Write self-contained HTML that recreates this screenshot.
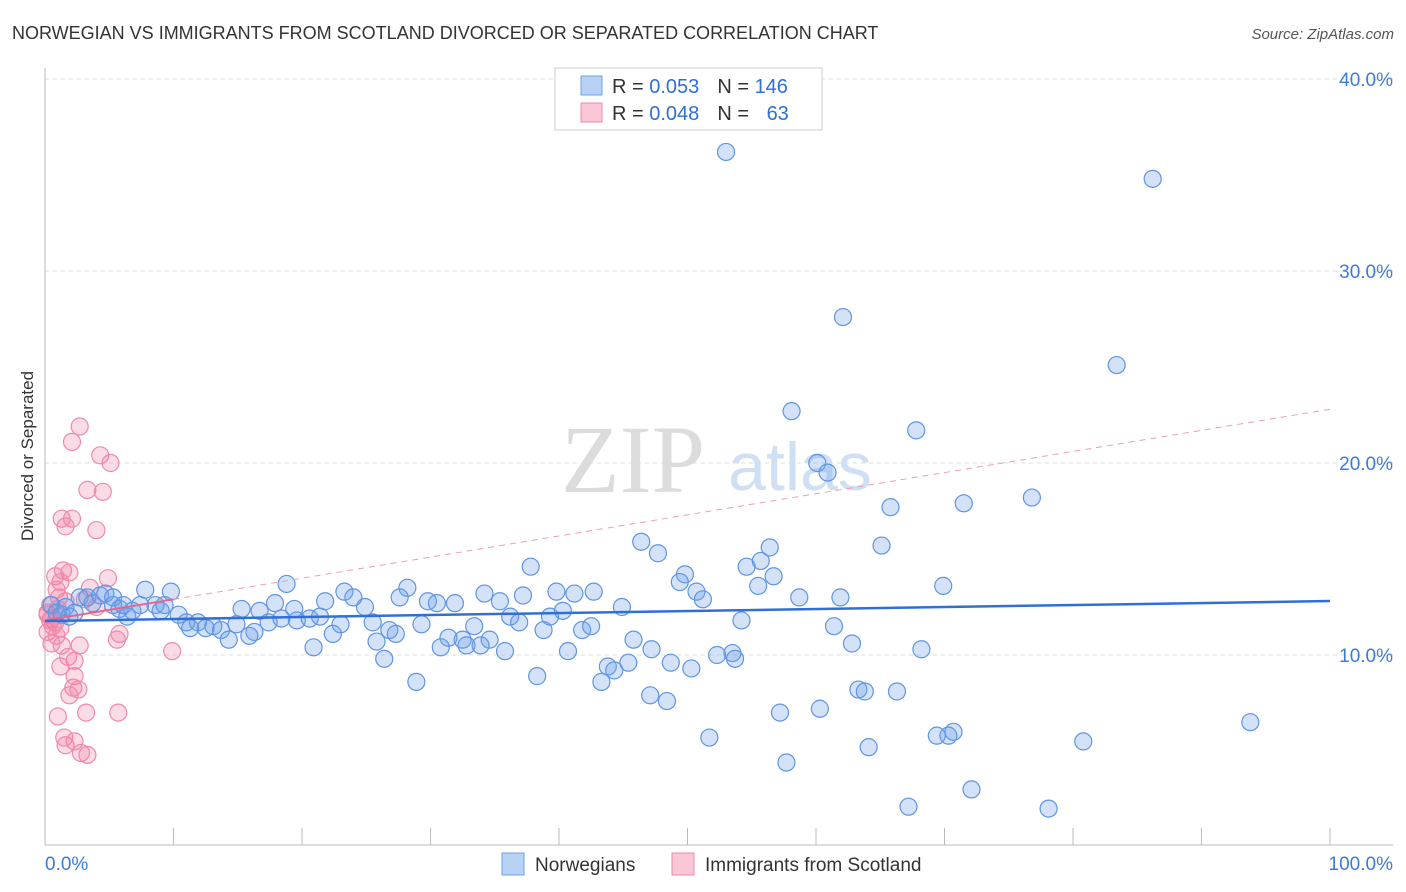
<!DOCTYPE html>
<html><head><meta charset="utf-8"><style>
body{margin:0;background:#fff;font-family:"Liberation Sans",sans-serif;}
svg{display:block}
</style></head><body>
<svg id="c" width="1406" height="892">
<text x="12" y="39" font-size="18" fill="#333">NORWEGIAN VS IMMIGRANTS FROM SCOTLAND DIVORCED OR SEPARATED CORRELATION CHART</text>
<text x="1394" y="39" font-size="15" fill="#555" text-anchor="end" font-style="italic">Source: ZipAtlas.com</text>
<text x="33" y="456" font-size="17" fill="#333" text-anchor="middle" transform="rotate(-90 33 456)">Divorced or Separated</text>
<g>
<text x="633" y="492" font-size="96" fill="#dcdcdc" text-anchor="middle" font-family="Liberation Serif,serif">ZIP</text>
<text x="800" y="490" font-size="68" fill="#cfe0f5" text-anchor="middle">atlas</text>
</g>
<g id="grid"></g><g id="pink"></g><g id="blue"></g><g id="trend"></g>
<g>
<rect x="555" y="68" width="267" height="62" fill="#fff" stroke="#ccc"/>
<rect x="581" y="76" width="21" height="19" fill="#b8d2f5" stroke="#6fa0e8"/>
<rect x="581" y="103" width="21" height="19" fill="#f9c6d6" stroke="#f08aa8"/>
<text x="612" y="93" font-size="20" fill="#333">R = <tspan fill="#2f6fd6">0.053</tspan><tspan dx="18">N = </tspan><tspan fill="#2f6fd6">146</tspan></text>
<text x="612" y="120" font-size="20" fill="#333">R = <tspan fill="#2f6fd6">0.048</tspan><tspan dx="18">N = </tspan><tspan fill="#2f6fd6" dx="12">63</tspan></text>
</g>
<g>
<rect x="502" y="853" width="22" height="22" fill="#b8d2f5" stroke="#6fa0e8"/>
<text x="535" y="871" font-size="19" fill="#333">Norwegians</text>
<rect x="672" y="853" width="22" height="22" fill="#f9c6d6" stroke="#f08aa8"/>
<text x="705" y="871" font-size="19" fill="#333">Immigrants from Scotland</text>
</g>
</svg>
<script>
const blueX=[53.0,86.2,62.1,83.4,58.1,67.8,60.1,60.9,76.8,71.5,65.8,46.4,65.1,56.4,47.7,55.7,37.8,54.6,49.8,49.4,56.7,55.5,69.9,50.7,51.2,58.7,61.9,18.8,28.2,23.3,34.2,39.8,42.7,41.2,7.8,9.8,27.6,37.2,24.0,29.8,17.9,21.8,30.5,31.9,35.4,24.9,44.9,15.3,19.4,16.7,40.3,36.2,39.3,10.4,21.4,19.6,20.6,17.4,18.4,54.2,11.0,11.9,13.1,14.9,23.0,25.5,29.3,36.9,61.4,11.3,12.5,13.7,16.3,22.4,26.8,27.3,33.4,38.8,41.8,42.5,14.3,15.9,32.5,45.8,34.6,31.4,25.8,30.8,32.8,33.9,62.8,20.9,35.8,40.7,47.2,68.2,53.5,52.3,53.7,26.4,48.7,45.4,43.8,50.3,44.3,38.3,43.3,28.9,63.3,63.8,66.3,47.1,48.4,60.3,57.2,93.8,70.7,70.3,69.4,51.7,80.8,64.1,57.7,72.1,67.2,78.1,0.5,0.9,1.3,1.6,1.9,2.3,2.7,3.3,3.7,4.3,4.7,5.3,5.8,6.4,6.8,7.4,8.6,9.0,9.3,5.3,6.1];
const blueY=[36.2,34.8,27.6,25.1,22.7,21.7,20.0,19.5,18.2,17.9,17.7,15.9,15.7,15.6,15.3,14.9,14.6,14.6,14.2,13.8,14.1,13.6,13.6,13.3,12.9,13.0,13.0,13.7,13.5,13.3,13.2,13.3,13.3,13.2,13.4,13.3,13.0,13.1,13.0,12.8,12.7,12.8,12.7,12.7,12.8,12.5,12.5,12.4,12.4,12.3,12.3,12.0,12.0,12.1,12.0,11.8,11.9,11.7,11.9,11.8,11.7,11.7,11.5,11.6,11.6,11.7,11.6,11.7,11.5,11.4,11.4,11.3,11.2,11.1,11.3,11.1,11.5,11.3,11.3,11.5,10.8,11.0,10.8,10.8,10.8,10.9,10.7,10.4,10.5,10.5,10.6,10.4,10.2,10.2,10.3,10.3,10.1,10.0,9.8,9.8,9.6,9.6,9.4,9.3,9.2,8.9,8.6,8.6,8.2,8.1,8.1,7.9,7.6,7.2,7.0,6.5,6.0,5.8,5.8,5.7,5.5,5.2,4.4,3.0,2.1,2.0,12.6,12.2,12.1,12.5,12.0,12.2,13.0,13.0,12.7,13.1,13.2,13.0,12.4,12.0,12.3,12.6,12.6,12.3,12.6,12.6,12.6];
const pinkX=[2.7,2.1,4.3,5.1,3.3,4.5,1.3,2.1,1.6,4.0,1.4,1.9,0.8,1.2,3.5,4.9,0.9,1.1,3.1,0.4,0.2,0.5,0.8,1.2,0.2,0.9,0.5,1.3,2.7,5.8,5.6,9.9,1.8,2.3,1.2,2.3,2.2,2.6,1.9,1.0,3.2,5.7,1.5,2.3,1.6,2.8,3.3,0.4,0.2,0.6,1.0,1.6,4.0];
const pinkY=[21.9,21.1,20.4,20.0,18.6,18.5,17.1,17.1,16.7,16.5,14.4,14.3,14.1,13.8,13.5,14.0,13.4,13.0,12.9,12.6,12.2,11.9,11.7,11.4,11.2,11.0,10.6,10.5,10.5,11.1,10.8,10.2,9.9,9.7,9.4,8.9,8.3,8.2,7.9,6.8,7.0,7.0,5.7,5.5,5.3,4.9,4.8,11.8,12.1,11.5,12.4,12.8,12.5];
const blueTrend=[11.77,12.81];
const pinkTrend=[11.8,22.8];
const yTicks=[10,20,30,40];
const xTickLabels=["0.0%","100.0%"];
const NS="http://www.w3.org/2000/svg";
const X0=45,X1=1330,Y0=847,PPY=19.2;
const sx=v=>X0+(X1-X0)*v/100, sy=v=>Y0-v*PPY;
function mk(t,a,p){const e=document.createElementNS(NS,t);for(const k in a)e.setAttribute(k,a[k]);p.appendChild(e);return e;}
const grid=document.getElementById('grid');
yTicks.forEach(t=>{
 const l=mk('line',{x1:45,x2:1393,y1:sy(t),y2:sy(t),stroke:'#ddd','stroke-dasharray':'4,4'},grid);
 
 
 const tx=mk('text',{x:1393,y:sy(t)+7,'font-size':19,fill:'#3d7bd9','text-anchor':'end'},grid);
 tx.textContent=t.toFixed(1)+'%';
 
 
});
const ax=mk('line',{x1:45,x2:1393,y1:845,y2:845,stroke:'#bbb'},grid);


const ay=mk('line',{x1:45,x2:45,y1:68,y2:845,stroke:'#bbb'},grid);


for(let i=1;i<=10;i++){const t=mk('line',{x1:sx(i*10),x2:sx(i*10),y1:828,y2:845,stroke:'#bbb'},grid);
 
 }
[[0,'start',45],[100,'end',1393]].forEach((d,i)=>{const t=mk('text',{x:d[2],y:870,'font-size':19,fill:'#3d7bd9','text-anchor':d[1]},grid);t.textContent=xTickLabels[i];
 
 });
function pts(xs,ys,g,fill,stroke,name){const p=document.getElementById(g);xs.forEach((x,i)=>{const c=mk('circle',{cx:sx(x),cy:sy(ys[i]),r:8.5,fill:fill,stroke:stroke,'stroke-width':1.2},p);
 
 });}
pts(pinkX,pinkY,'pink','rgba(240,130,165,0.28)','#f08aa8','scotland-point');
pts(blueX,blueY,'blue','rgba(110,160,232,0.3)','#5f95e3','norwegian-point');
const tr=document.getElementById('trend');
const pm=(pinkTrend[1]-pinkTrend[0])/100;
const p1=mk('line',{x1:sx(0),y1:sy(pinkTrend[0]),x2:sx(10),y2:sy(pinkTrend[0]+pm*10),stroke:'#e8668e','stroke-width':2},tr);


const p2=mk('line',{x1:sx(10),y1:sy(pinkTrend[0]+pm*10),x2:sx(100),y2:sy(pinkTrend[1]),stroke:'#e8a0b5','stroke-width':1,'stroke-dasharray':'6,5'},tr);


const b=mk('line',{x1:sx(0),y1:sy(blueTrend[0]),x2:sx(100),y2:sy(blueTrend[1]),stroke:'#2f6fd6','stroke-width':2.5},tr);


</script>
</body></html>
